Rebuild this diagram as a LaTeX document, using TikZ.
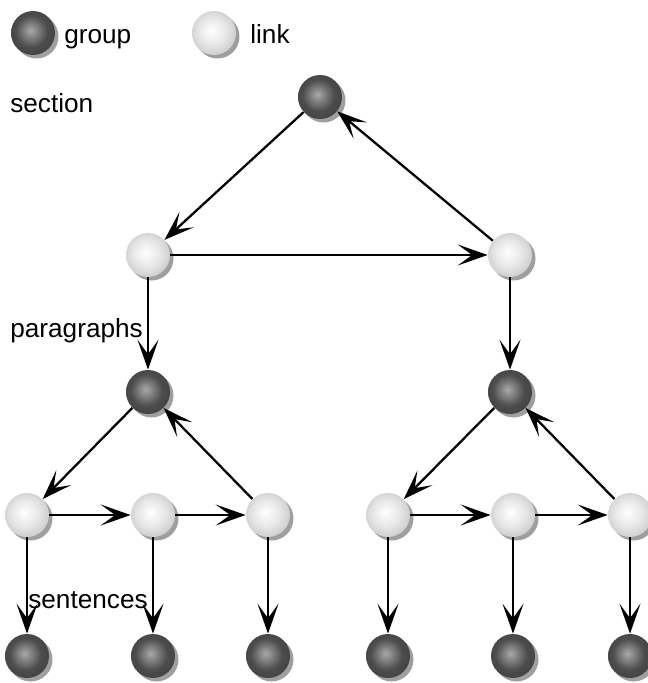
\documentclass[tikz,border=0pt]{standalone}
\usepackage{fontspec}
\setmainfont{Liberation Sans}
\usetikzlibrary{arrows.meta,shadows}
\pgfdeclareradialshading{grpball}{\pgfpoint{-3bp}{3bp}}{%
  color(0bp)=(gray!68); color(18bp)=(gray!60!black); color(34bp)=(black!76);
  color(50bp)=(black)}
\pgfdeclareradialshading{lnkball}{\pgfpoint{-3bp}{3bp}}{%
  color(0bp)=(white); color(16bp)=(gray!20); color(32bp)=(gray!48);
  color(50bp)=(gray!70)}
\tikzset{
  ball/.style={circle, minimum size=0.88cm, inner sep=0pt,
    drop shadow={shadow xshift=0.07cm, shadow yshift=-0.07cm, fill=gray!75, opacity=1}},
  grp/.style ={ball, shading=grpball},
  lnk/.style ={ball, shading=lnkball},
  arr/.style ={-{Stealth[length=0.6cm, width=0.42cm, inset=0.29cm]}, line width=1.3pt},
  lbl/.style ={anchor=base west, inner sep=0pt, font=\fontsize{14.9}{17}\selectfont},
}

\begin{document}
\begin{tikzpicture}[x=0.02cm, y=-0.02cm]
  \useasboundingbox (0,0) rectangle (648,683);
  % legend
  \node[grp] (keyG) at (33,33) {};   \node[lbl] (keyGt) at (64,43) {group};
  \node[lnk] (keyL) at (214,33) {};  \node[lbl] (keyLt) at (250,43) {link};
  % level labels
  \node[lbl] (tSec) at (10,112) {section};
  \node[lbl] (tPar) at (10,337) {paragraphs};
  \node[lbl] (tSen) at (28,608) {sentences};
  % section
  \node[grp] (sec) at (320,97) {};
  \node[lnk] (pl1) at (148,255) {};
  \node[lnk] (pl2) at (510,255) {};
  % paragraphs
  \node[grp] (par1) at (148,392) {};
  \node[grp] (par2) at (510,392) {};
  \foreach \i/\x in {1/27, 2/153, 3/268, 4/388, 5/513, 6/630}{
    \node[lnk] (sl\i) at (\x,515) {};
    \node[grp] (sen\i) at (\x,656) {};
  }
  \draw[arr] (sec) -- (pl1);
  \draw[arr] (pl1) -- (pl2);
  \draw[arr] (pl2) -- (sec);
  \draw[arr] (pl1) -- (par1);
  \draw[arr] (pl2) -- (par2);
  \draw[arr] (par1) -- (sl1);
  \draw[arr] (sl1) -- (sl2);
  \draw[arr] (sl2) -- (sl3);
  \draw[arr] (sl3) -- (par1);
  \draw[arr] (par2) -- (sl4);
  \draw[arr] (sl4) -- (sl5);
  \draw[arr] (sl5) -- (sl6);
  \draw[arr] (sl6) -- (par2);
  \foreach \i in {1,...,6}{ \draw[arr] (sl\i) -- (sen\i); }
\end{tikzpicture}
\end{document}
